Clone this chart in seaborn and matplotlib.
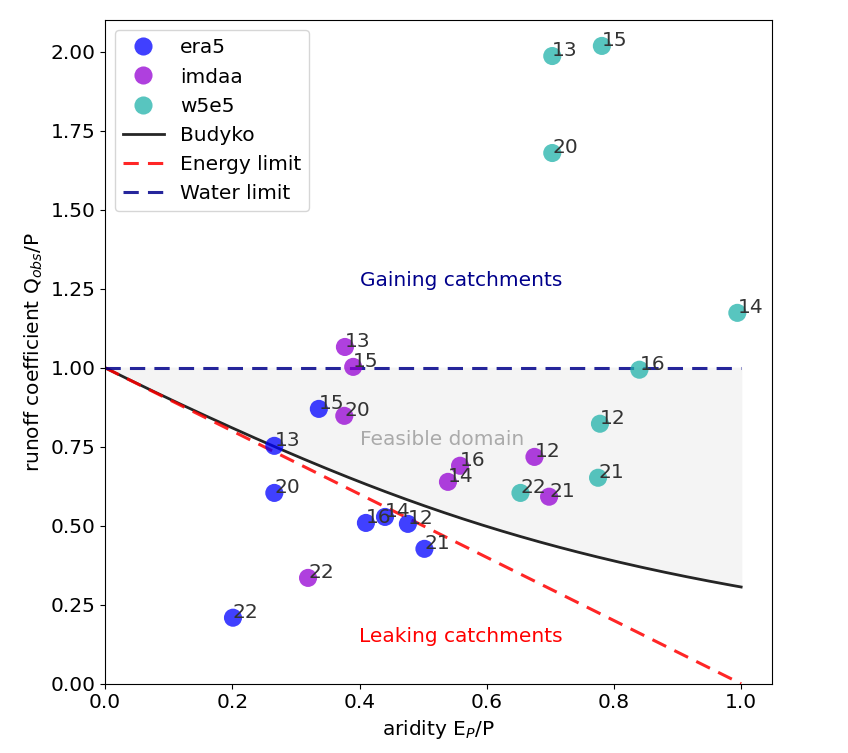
import numpy as np
import pandas as pd
import matplotlib
matplotlib.use("Agg")
import matplotlib.pyplot as plt
import seaborn as sns

# data
era5_year = ["13", "20", "15", "22", "16", "14", "12", "21"]
era5_x = [0.266, 0.266, 0.336, 0.201, 0.410, 0.440, 0.476, 0.502]
era5_y = [0.753, 0.604, 0.870, 0.209, 0.509, 0.528, 0.506, 0.427]

imdaa_year = ["13", "15", "20", "16", "14", "12", "21", "22"]
imdaa_x = [0.377, 0.390, 0.376, 0.558, 0.539, 0.675, 0.698, 0.319]
imdaa_y = [1.066, 1.003, 0.848, 0.690, 0.639, 0.718, 0.592, 0.335]

w5e5_year = ["13", "15", "20", "14", "16", "12", "21", "22"]
w5e5_x = [0.703, 0.781, 0.703, 0.994, 0.840, 0.778, 0.775, 0.653]
w5e5_y = [1.987, 2.019, 1.680, 1.174, 0.994, 0.823, 0.652, 0.604]

df = pd.concat([
    pd.DataFrame({"aridity": era5_x, "runoff": era5_y, "year": era5_year, "source": "era5"}),
    pd.DataFrame({"aridity": imdaa_x, "runoff": imdaa_y, "year": imdaa_year, "source": "imdaa"}),
    pd.DataFrame({"aridity": w5e5_x, "runoff": w5e5_y, "year": w5e5_year, "source": "w5e5"}),
], ignore_index=True)

palette = {"era5": "blue", "imdaa": "darkviolet", "w5e5": "lightseagreen"}

plt.rcParams["font.size"] = 14.5

fig, ax = plt.subplots(figsize=(8.48, 7.53), dpi=100)
fig.subplots_adjust(left=0.124, right=0.910, top=0.973, bottom=0.092)

# budyko curve
phi = np.linspace(0.0001, 1, 200)
budyko = 1 - np.sqrt(phi * np.tanh(1 / phi) * (1 - np.exp(-phi)))
phi = np.concatenate([[0], phi])
budyko = np.concatenate([[1], budyko])

ax.fill_between(phi, budyko, 1, color="#f4f4f4", zorder=0)

sns.scatterplot(data=df, x="aridity", y="runoff", hue="source", palette=palette,
                s=170, alpha=0.75, linewidth=0, ax=ax, zorder=3)

ax.plot(phi, budyko, color="black", lw=2, alpha=0.85, label="Budyko")
ax.plot([0, 1], [1, 0], color="red", lw=2.2, ls="--", dashes=(5, 3), alpha=0.85, label="Energy limit")
ax.plot([0, 1], [1, 1], color="darkblue", lw=2.2, ls="--", dashes=(5, 3), alpha=0.85, label="Water limit")

for _, r in df.iterrows():
    ax.text(r["aridity"], r["runoff"], r["year"], color="#333333", fontsize=14.5, zorder=4)

ax.text(0.56, 1.275, "Gaining catchments", color="darkblue", ha="center", va="center")
ax.text(0.56, 0.149, "Leaking catchments", color="red", ha="center", va="center")
ax.text(0.53, 0.772, "Feasible domain", color="#aaaaaa", ha="center", va="center")

ax.set_xlim(0, 1.048)
ax.set_ylim(0, 2.1)
ax.set_xlabel("aridity E$_P$/P")
ax.set_ylabel("runoff coefficient Q$_{obs}$/P")
ax.legend(loc="upper left", markerscale=1.0)

fig.savefig("out.png", dpi=100)
